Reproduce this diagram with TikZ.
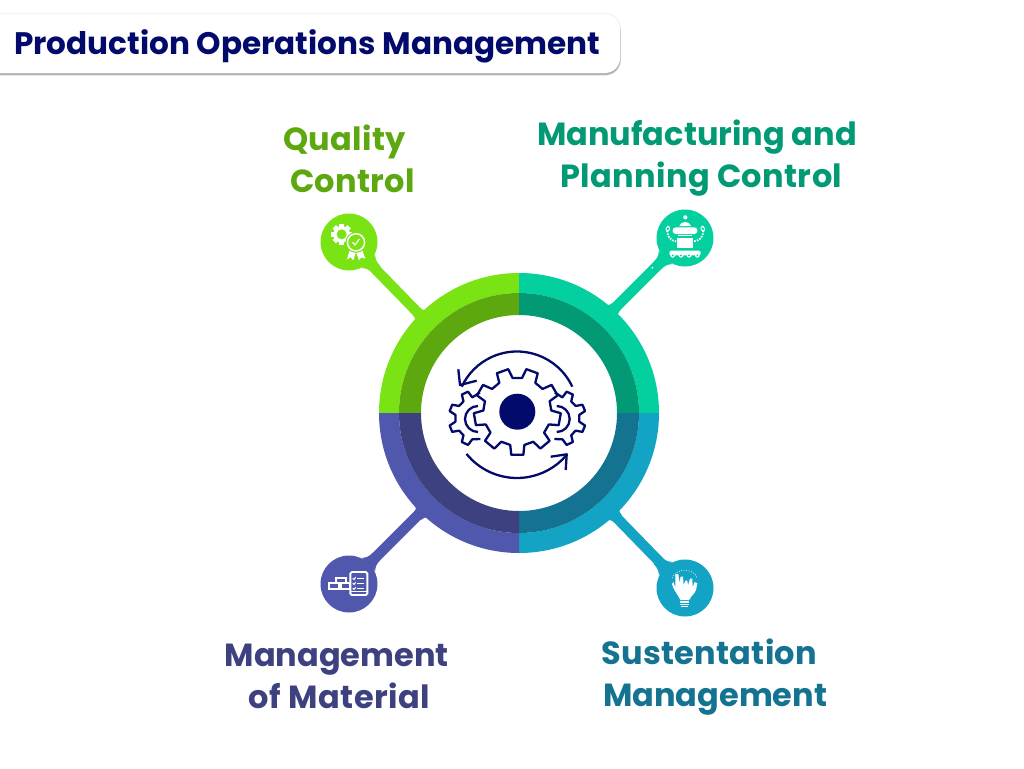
\documentclass[tikz,border=0pt]{standalone}
\usepackage{fontspec}
\setmainfont{Poppins}
\definecolor{navy}{HTML}{020A6B}
\definecolor{gA}{HTML}{7AE314}\definecolor{gB}{HTML}{5DA80E}
\definecolor{tA}{HTML}{03D09E}\definecolor{tB}{HTML}{029A75}
\definecolor{bA}{HTML}{13A3C4}\definecolor{bB}{HTML}{147390}
\definecolor{iA}{HTML}{5058AE}\definecolor{iB}{HTML}{3D4180}
\newcommand{\ringseg}[5]{\fill[#5,shift={(519,413)}] (#1:#4pt) arc[start angle=#1,end angle=#2,radius=#4pt] -- (#2:#3pt) arc[start angle=#2,end angle=#1,radius=#3pt] -- cycle;}
% fillet where a stem leaves its pin: pin x, pin y, angle, colour
\newcommand{\pinflare}[4]{\fill[#4,shift={(#1,#2)},rotate=#3] (27.5,9.5) .. controls (30,7) and (33,5.2) .. (39,5.2) -- (39,-5.2) .. controls (33,-5.2) and (30,-7) .. (27.5,-9.5) -- cycle;}
% fillet where a stem meets the ring: ring x, ring y, angle, colour
\newcommand{\ringflare}[4]{\fill[#4,shift={(#1,#2)},rotate=#3] (-5,5.1) .. controls (-2,5.1) and (0,6) .. (3,9.5) -- (3,-9.5) .. controls (0,-6) and (-2,-5.1) .. (-5,-5.1) -- cycle;}
% centre angle, base half-angle, root radius, tip radius, tip half-angle
\newcommand{\gearpts}[5]{(#1-#2:#3pt) -- (#1-#5:#4pt) -- (#1+#5:#4pt) -- (#1+#2:#3pt)}
\newcommand{\ls}[2]{{\addfontfeature{LetterSpace=#1}#2}}
\tikzset{
  pin/.style={circle,inner sep=0pt,minimum size=57pt,fill=#1},
  stem/.style={line width=10.3pt,#1},
  lab/.style={anchor=west,align=left,font=\fontsize{32}{42}\selectfont\bfseries,text=#1,inner sep=0pt},
  ico/.style={x=0.33333pt,y=-0.33333pt},
  icoline/.style={navy,line width=2.3pt,line join=round},
}
\begin{document}
\begin{tikzpicture}[x=1pt,y=-1pt]
\useasboundingbox (0,0) rectangle (1024,768);
\fill[white] (0,0) rectangle (1024,768);
% title box
\fill[black!5,rounded corners=16pt] (-30,13) rectangle (621,76);
\fill[black!30,rounded corners=15pt] (-30,16) rectangle (620.5,75);
\fill[white,rounded corners=15pt] (-30,14) rectangle (620,73);
\node[anchor=west,inner sep=0pt,font=\fontsize{31.1}{36}\selectfont\bfseries,text=navy] (title) at (14,46) {Production Operations Management};
% pins and stems
\node[pin=gA] (q) at (349,242) {};
\node[pin=tA] (m) at (685,238) {};
\node[pin=iA] (a) at (349,584) {};
\node[pin=bA] (s) at (685,588) {};
\coordinate (qe) at (423,318);
\coordinate (me) at (610,313);
\coordinate (ae) at (424,509);
\coordinate (se) at (612,513);
\pinflare{349}{242}{-45}{gA}
\pinflare{685}{238}{-135}{tA}
\pinflare{349}{584}{45}{iA}
\pinflare{685}{588}{135}{bA}
\ringflare{420}{315}{-45}{gA}
\ringflare{613.4}{309.6}{-135}{tA}
\ringflare{420.5}{513}{45}{iA}
\ringflare{614.8}{515.5}{135}{bA}
\draw[stem=gA] (q) -- (qe);
\draw[stem=tA] (m) -- (me);
\draw[stem=iA] (a) -- (ae);
\draw[stem=bA] (s) -- (se);
% ring
\ringseg{90}{180}{120}{140}{gA}
\ringseg{0}{90}{120}{140}{tA}
\ringseg{270}{360}{120}{140}{bA}
\ringseg{180}{270}{120}{140}{iA}
\ringseg{90}{180}{98}{120}{gB}
\ringseg{0}{90}{98}{120}{tB}
\ringseg{270}{360}{98}{120}{bB}
\ringseg{180}{270}{98}{120}{iB}
% central icon
\fill[navy] (517.3,411.7) circle[radius=18pt];
\draw[icoline,shift={(517.3,411.7)}] \gearpts{270}{12}{34}{43.5}{8} \foreach \t in {310,350,30,70,110,150,190,230} { -- \gearpts{\t}{12}{34}{43.5}{8} } -- cycle;
\draw[icoline,shift={(476.7,418.3)}] (83:26pt) -- (101:21.5pt) -- \gearpts{115}{13}{21.5}{28}{7} -- \gearpts{158}{13}{21.5}{28}{7} -- \gearpts{202}{13}{21.5}{28}{7} -- \gearpts{245}{13}{21.5}{28}{7} -- (280:21pt);
\draw[icoline,shift={(558,418.3)}] (97:26pt) -- (79:21.5pt) -- \gearpts{65}{-13}{21.5}{28}{-7} -- \gearpts{22}{-13}{21.5}{28}{-7} -- \gearpts{-22}{-13}{21.5}{28}{-7} -- \gearpts{-65}{-13}{21.5}{28}{-7} -- (-100:21pt);
\draw[icoline,shift={(478,419)}] (90:13pt) arc[start angle=90,end angle=270,radius=13pt];
\draw[icoline,shift={(556.7,419)}] (90:13pt) arc[start angle=90,end angle=-90,radius=13pt];
\draw[icoline,shift={(517,412.5)}] (25:61pt) arc[start angle=25,end angle=155,radius=61pt];
\draw[icoline] (458.3,369.3) -- (460,385) -- (476.7,380.7);
\draw[icoline,shift={(517,413)}] (219:65pt) arc[start angle=219,end angle=319,radius=65pt];
\draw[icoline] (550.7,456.7) -- (566.7,454.3) -- (565.7,470);
% quality icon
\begin{scope}[shift={(341.7,234.3)}]
\foreach \t in {0,45,...,315} \fill[white,rotate=\t] (7,-2.4) rectangle (10.5,2.4);
\fill[white] (0,0) circle[radius=8.2pt];
\fill[gA] (0,0) circle[radius=5pt];
\end{scope}
\begin{scope}[ico,shift={(300pt,-200pt)}]
\fill[white] (150,148) -- (141,178) -- (152,172) -- (160,181) -- (170,150) -- cycle;
\fill[white] (186,148) -- (196,176) -- (184,172) -- (177,181) -- (166,150) -- cycle;
\fill[gA] (168,127) circle[radius=10.5pt];
\draw[white,line width=1.5pt] (168,127) circle[radius=8.6pt];
\draw[white,line width=1.2pt] (158,127) -- (165,135) -- (178,117);
\end{scope}
% robot icon
\begin{scope}[ico,shift={(610pt,-200pt)}]
\fill[white] (226,52) circle[radius=2.1pt];
\fill[white] (208,78) .. controls (212,62) and (238,62) .. (243,78) -- cycle;
\fill[white,rounded corners=3pt] (188,82) rectangle (262,102);
\fill[white] (205,105) rectangle (246,108);
\fill[white] (200,113) rectangle (248,145);
\fill[white,rounded corners=2pt] (178,152) rectangle (272,166);
\foreach \w in {188,213,237,262} {\fill[white] (\w,166) circle[radius=2.4pt]; \fill[tA] (\w,166) circle[radius=1pt];}
\draw[white,line width=1.8pt,dash pattern=on 1.6pt off 1.2pt] (172,92) .. controls (172,112) and (182,122) .. (198,124);
\draw[white,line width=1.8pt,dash pattern=on 1.6pt off 1.2pt] (280,92) .. controls (280,112) and (270,122) .. (250,124);
\draw[white,line width=1pt] (175,78) .. controls (165,85) and (168,92) .. (172,95) (175,78) .. controls (182,85) and (178,92) .. (172,95);
\draw[white,line width=1pt] (277,78) .. controls (287,85) and (284,92) .. (280,95) (277,78) .. controls (270,85) and (274,92) .. (280,95);
\fill[white] (127,203) circle[radius=1pt];
\end{scope}
% material icon
\begin{scope}[ico,shift={(300pt,-510pt)}]
\draw[white,line width=1.9pt] (107,203) rectangle (137,220);
\draw[white,line width=1.9pt] (88,220) rectangle (118,236);
\draw[white,line width=1.9pt] (122,220) rectangle (150,236);
\draw[white,line width=1.9pt,rounded corners=1.5pt] (151,186) rectangle (202,255);
\draw[white,line width=1.2pt] (151,245) -- (202,245);
\foreach \r in {205,220,235} {
 \draw[white,line width=1.1pt] (172,\r) -- (192,\r);
 \draw[white,line width=1.1pt] (158,\r) -- (162,\r+3) -- (167,\r-3);
}
\end{scope}
% bulb icon
\begin{scope}[ico,shift={(610pt,-510pt)}]
\fill[white] (186,222) -- (190,216) -- (196,232) -- (196,192) -- (205,192) -- (208,218) -- (212,200) -- (219,200) -- (221,226) -- (226,212) -- (232,212) -- (234,226) -- (240,206) -- (247,206) -- (248,232) -- (254,216) -- (262,220) -- (258,240) .. controls (254,252) and (242,258) .. (238,270) -- (211,270) .. controls (207,258) and (192,245) .. (186,222) -- cycle;
\fill[white] (211,274) rectangle (238,278);
\fill[white] (211,281) rectangle (238,285);
\fill[white] (214,288) rectangle (235,291);
\draw[white!75!bA,line width=0.8pt,dash pattern=on 1pt off 1.5pt] (186,205) .. controls (195,175) and (250,170) .. (262,205);
\end{scope}
% labels
\node[lab=gB] (ql) at (283,159) {\ls{0.9}{Quality}\\\hspace*{7pt}\ls{0.9}{Control}};
\node[lab=tB] (ml) at (537,158.5) {Manufacturing and\\\hspace*{23pt}\ls{1.2}{Planning Control}};
\node[lab=iB] (al) at (224.5,676) {Management\\\hspace*{24pt}\ls{1.6}{of Material}};
\node[lab=bB] (sl) at (601,677) {\ls{1}{Sustentation}\\\hspace*{2pt}Management};
\end{tikzpicture}
\end{document}
